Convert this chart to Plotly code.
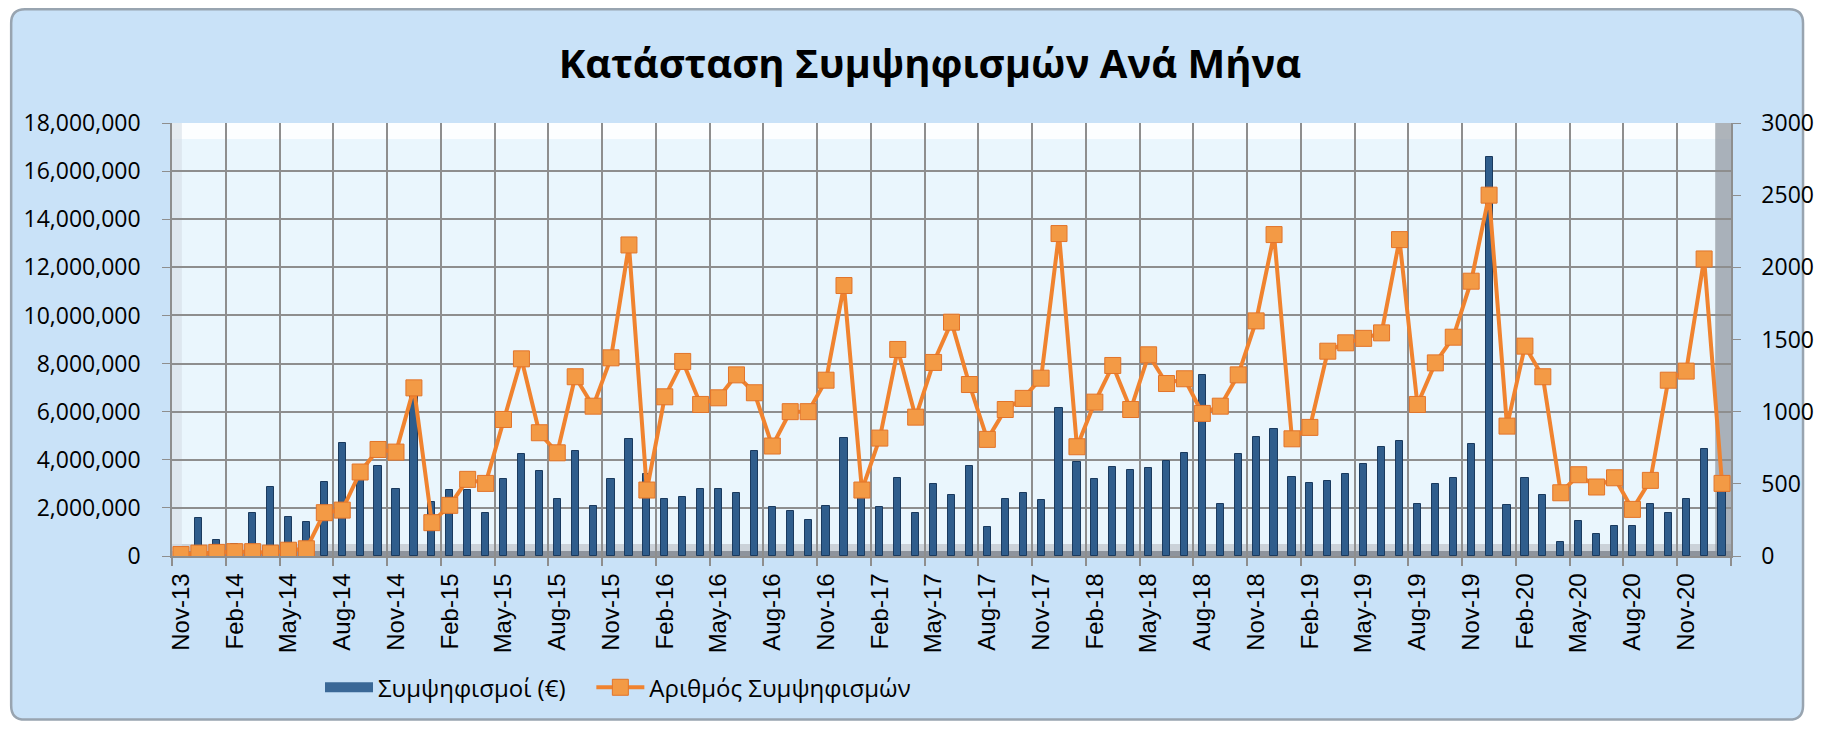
import plotly.graph_objects as go

months = [
    "Nov-13", "Dec-13",
    "Jan-14", "Feb-14", "Mar-14", "Apr-14", "May-14", "Jun-14", "Jul-14", "Aug-14", "Sep-14", "Oct-14", "Nov-14", "Dec-14",
    "Jan-15", "Feb-15", "Mar-15", "Apr-15", "May-15", "Jun-15", "Jul-15", "Aug-15", "Sep-15", "Oct-15", "Nov-15", "Dec-15",
    "Jan-16", "Feb-16", "Mar-16", "Apr-16", "May-16", "Jun-16", "Jul-16", "Aug-16", "Sep-16", "Oct-16", "Nov-16", "Dec-16",
    "Jan-17", "Feb-17", "Mar-17", "Apr-17", "May-17", "Jun-17", "Jul-17", "Aug-17", "Sep-17", "Oct-17", "Nov-17", "Dec-17",
    "Jan-18", "Feb-18", "Mar-18", "Apr-18", "May-18", "Jun-18", "Jul-18", "Aug-18", "Sep-18", "Oct-18", "Nov-18", "Dec-18",
    "Jan-19", "Feb-19", "Mar-19", "Apr-19", "May-19", "Jun-19", "Jul-19", "Aug-19", "Sep-19", "Oct-19", "Nov-19", "Dec-19",
    "Jan-20", "Feb-20", "Mar-20", "Apr-20", "May-20", "Jun-20", "Jul-20", "Aug-20", "Sep-20", "Oct-20", "Nov-20", "Dec-20",
    "Jan-21",
]

amounts_eur = [
    300000, 1600000,
    660000, 510000, 1770000, 2870000, 1630000, 1410000, 3070000, 4710000, 3190000, 3740000, 2770000, 6800000,
    2260000, 2740000, 2740000, 1770000, 3190000, 4220000, 3530000, 2380000, 4360000, 2080000, 3210000, 4850000,
    3400000, 2380000, 2470000, 2770000, 2770000, 2630000, 4360000, 2050000, 1870000, 1500000, 2080000, 4920000,
    2900000, 2050000, 3230000, 1770000, 3010000, 2520000, 3740000, 1220000, 2380000, 2630000, 2330000, 6160000,
    3920000, 3190000, 3710000, 3560000, 3670000, 3950000, 4270000, 7510000, 2150000, 4220000, 4960000, 5260000,
    3300000, 3020000, 3100000, 3400000, 3840000, 4530000, 4780000, 2160000, 3000000, 3230000, 4670000, 16590000,
    2110000, 3230000, 2550000, 580000, 1440000, 930000, 1230000, 1230000, 2170000, 1800000, 2380000, 4450000,
    3300000,
]

counts = [
    10, 20,
    25, 30, 30, 20, 40, 50, 300, 318, 582, 738, 720, 1165,
    231, 351, 531, 503, 946, 1366, 854, 715, 1242, 1038, 1373, 2155,
    457, 1103, 1348, 1050, 1096, 1255, 1131, 762, 1000, 1000, 1218, 1874,
    457, 817, 1431, 962, 1341, 1620, 1188, 808, 1015, 1092, 1232, 2234,
    757, 1066, 1320, 1015, 1394, 1195, 1228, 988, 1038, 1255, 1629, 2227,
    812, 891, 1419, 1477, 1508, 1546, 2192, 1050, 1338, 1516, 1904, 2500,
    900, 1454, 1242, 438, 563, 478, 542, 323, 524, 1218, 1281, 2058,
    503,
]

left_ticks = [0, 2000000, 4000000, 6000000, 8000000, 10000000, 12000000, 14000000, 16000000, 18000000]
right_ticks = [0, 500, 1000, 1500, 2000, 2500, 3000]

title_text = "Κατάσταση Συμψηφισμών Ανά Μήνα"
bar_name = "Συμψηφισμοί (€)"
line_name = "Αριθμός Συμψηφισμών"

x = list(range(len(months)))
label_every = 3

# the page body has an 8px margin, so the figure is 16px smaller than the window
W, H = 1818, 714
ML, MT = 164, 115
PW, PH = 1580, 434
MR, MB = W - ML - PW, H - MT - PH


def px_x(p):
    return (p - ML) / PW


def px_y(p):
    return (MT + PH - p) / PH


grid_col = "#8E8E8E"
bar_col = "#2F5D8C"
line_col = "#F0832F"

fig = go.Figure()
fig.add_trace(go.Bar(
    x=x, y=amounts_eur, name=bar_name, width=0.4, showlegend=False,
    marker=dict(color=bar_col, line=dict(color="#1A3A5E", width=1)),
))
# legend swatch for the bars (wide flat bar, as in the original legend)
fig.add_trace(go.Scatter(
    x=[None], y=[None], name=bar_name, mode="lines", legend="legend",
    line=dict(color="#3A6897", width=11),
))
fig.add_trace(go.Scatter(
    x=x, y=counts, name=line_name, yaxis="y2", mode="lines+markers", legend="legend2",
    line=dict(color=line_col, width=4),
    marker=dict(symbol="square", size=16, color="#F39A45",
                line=dict(color="#E2742A", width=1)),
))

# frame (rounded) and plot-area decorations
fx0, fx1 = px_x(1), px_x(W - 1)
fy0, fy1 = px_y(H - 1), px_y(1)
rx, ry = 14 / PW, 14 / PH
frame_path = (
    f"M {fx0+rx},{fy1} L {fx1-rx},{fy1} Q {fx1},{fy1} {fx1},{fy1-ry} "
    f"L {fx1},{fy0+ry} Q {fx1},{fy0} {fx1-rx},{fy0} "
    f"L {fx0+rx},{fy0} Q {fx0},{fy0} {fx0},{fy0+ry} "
    f"L {fx0},{fy1-ry} Q {fx0},{fy1} {fx0+rx},{fy1} Z"
)
shapes = [
    dict(type="path", path=frame_path, xref="paper", yref="paper",
         fillcolor="#C9E2F8", line=dict(color="#98A4B0", width=2.5), layer="below"),
    dict(type="rect", xref="paper", yref="paper", x0=0, x1=1, y0=0, y1=1,
         fillcolor="#EAF6FD", line=dict(width=0), layer="below"),
    dict(type="rect", xref="paper", yref="paper", x0=0, x1=1, y0=1 - 16 / PH, y1=1,
         fillcolor="#FFFFFF", opacity=0.85, line=dict(width=0), layer="below"),
    dict(type="rect", xref="paper", yref="paper", x0=0, x1=1, y0=0, y1=12 / PH,
         fillcolor="#C3C9CF", opacity=0.8, line=dict(width=0), layer="below"),
    dict(type="rect", xref="paper", yref="paper", x0=0, x1=1, y0=0, y1=5 / PH,
         fillcolor="#7E858D", opacity=0.8, line=dict(width=0), layer="below"),
    dict(type="rect", xref="paper", yref="paper", x0=1 - 16 / PW, x1=1, y0=0, y1=1,
         fillcolor="#8D949C", opacity=0.7, line=dict(width=0), layer="below"),
    dict(type="rect", xref="paper", yref="paper", x0=0, x1=10 / PW, y0=0, y1=1,
         fillcolor="#D5DEE6", opacity=0.6, line=dict(width=0), layer="below"),
]

legend_common = dict(orientation="h", y=px_y(681), xanchor="left", yanchor="middle",
                     font=dict(family="Open Sans", size=24, color="#000000"),
                     bgcolor="rgba(0,0,0,0)", itemwidth=48)

fig.update_layout(
    width=W, height=H,
    margin=dict(l=ML, r=MR, t=MT, b=MB, pad=0),
    paper_bgcolor="#FFFFFF",
    plot_bgcolor="rgba(0,0,0,0)",
    shapes=shapes,
    bargap=0,
    title=dict(text=title_text, x=(930 - 8) / W, xref="container", xanchor="center",
               y=1 - 56 / H, yref="container", yanchor="middle",
               font=dict(family="Open Sans", size=40, color="#000000", weight="bold")),
    showlegend=True,
    legend=dict(x=px_x(314), **legend_common),
    legend2=dict(x=px_x(589), **legend_common),
    xaxis=dict(
        range=[-0.5, len(months) - 0.5],
        tickmode="array", tickvals=x[::label_every], ticktext=months[::label_every],
        tickangle=-90, ticks="", showgrid=False, zeroline=False,
        showline=True, linecolor=grid_col, linewidth=1.5,
        tickfont=dict(family="Liberation Sans", size=24, color="#000000"),
        ticklabelstandoff=6,
        minor=dict(tick0=-0.5, dtick=label_every, showgrid=True, gridcolor=grid_col,
                   gridwidth=1.5, ticks="outside", ticklen=8, tickcolor=grid_col, tickwidth=1.5),
    ),
    yaxis=dict(
        range=[0, 18000000], tickmode="array", tickvals=left_ticks,
        tickformat=",d", showgrid=True, gridcolor=grid_col, gridwidth=1.5,
        zeroline=False, showline=True, linecolor=grid_col, linewidth=1.5,
        ticks="outside", ticklen=8, tickcolor=grid_col, ticklabelstandoff=17,
        tickfont=dict(family="Open Sans", size=23, color="#000000"),
    ),
    yaxis2=dict(
        range=[0, 3000], tickmode="array", tickvals=right_ticks, overlaying="y", side="right",
        showgrid=False, zeroline=False, showline=True, linecolor=grid_col, linewidth=1.5,
        ticks="outside", ticklen=8, tickcolor=grid_col, ticklabelstandoff=16,
        tickfont=dict(family="Open Sans", size=23, color="#000000"),
    ),
)

fig.write_html("out.html")
